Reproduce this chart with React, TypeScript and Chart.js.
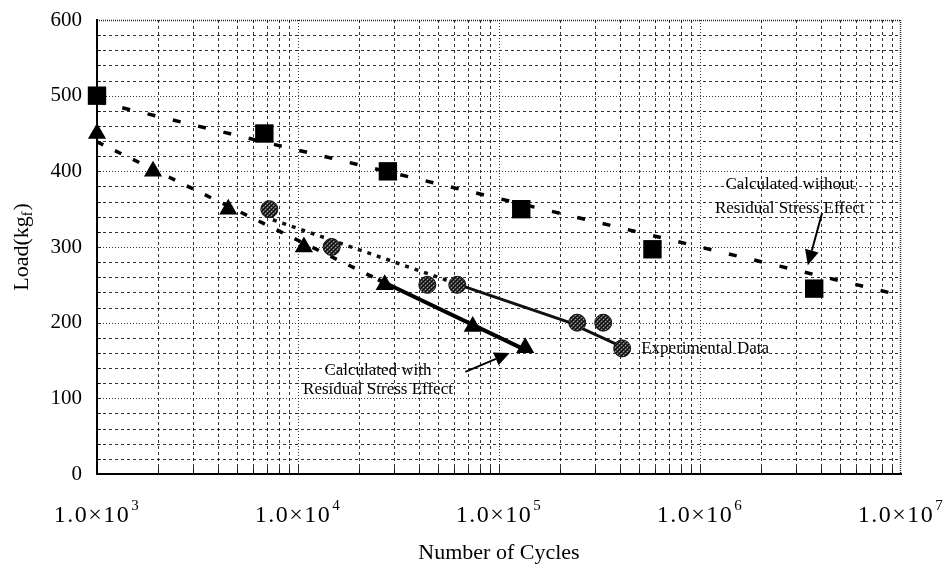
import React, { useEffect, useRef } from 'react';
import { Chart, registerables } from 'chart.js';

Chart.register(...registerables);

// ---- data ----
const decadeExponents = [3, 4, 5, 6, 7];
const gridMultipliers = [1, 2, 3, 4, 5, 6, 7, 8, 9];
const yLabelTicks = [0, 100, 200, 300, 400, 500, 600];
const yGridTicks = [20, 40, 60, 80, 100, 120, 140, 160, 180, 200, 220, 240, 260, 280, 300, 320, 340, 360, 380, 400, 420, 440, 460, 480, 500, 520, 540, 560, 580];

const squareCycles = [1000, 6800, 28000, 129000, 580000, 3700000];
const squareLoads = [500, 450, 400, 350, 297, 245];

const triangleCycles = [1000, 1900, 4500, 10700, 27000, 74000, 135000];
const triangleLoads = [450, 400, 350, 300, 250, 195, 167];

const circleCycles = [7200, 14700, 44000, 62000, 245000, 330000, 410000];
const circleLoads = [350, 300, 250, 250, 200, 200, 166];

const withoutFitCycles = [1000, 10000000];
const withoutFitLoads = [492, 236];

const withFitDashCycles = [1000, 25000];
const withFitDashLoads = [439, 257];
const withFitSolidCycles = [25000, 140000];
const withFitSolidLoads = [257, 162];

const expDotCycles = [7500, 55000];
const expDotLoads = [336, 256];
const expSolidCycles = [65000, 220000, 410000];
const expSolidLoads = [249, 201, 168];

// annotation anchors (in data coordinates)
const notes = [
  { text: 'Calculated without', n: 2.8e6, v: 382, align: 'center' },
  { text: 'Residual Stress Effect', n: 2.8e6, v: 351, align: 'center' },
  { text: 'Calculated with', n: 2.5e4, v: 137, align: 'center' },
  { text: 'Residual Stress Effect', n: 2.5e4, v: 111, align: 'center' },
  { text: 'Experimental Data', n: 5.1e5, v: 166, align: 'left' },
];
const arrows = [
  { n1: 4.05e6, v1: 345, n2: 3.44e6, v2: 276 },
  { n1: 6.8e4, v1: 135, n2: 1.13e5, v2: 160 },
];

const xTitle = 'Number of Cycles';
const yTitleMain = 'Load(kg';
const yTitleSub = 'f';
const yTitleEnd = ')';

const SERIF = '"Liberation Serif", "Times New Roman", serif';
const supDigits: Record<number, string> = { 3: '3', 4: '4', 5: '5', 6: '6', 7: '7' };

const pts = (xs: number[], ys: number[]) => xs.map((x, i) => ({ x, y: ys[i] }));

const gridPlugin = {
  id: 'customGrid',
  beforeDatasetsDraw(chart: any) {
    const { ctx, chartArea, scales } = chart;
    const { left, right, top, bottom } = chartArea;
    const xs = scales.x;
    const ys = scales.y;
    ctx.save();
    ctx.strokeStyle = 'rgba(0,0,0,0.8)';
    ctx.lineWidth = 1;
    // vertical grid
    decadeExponents.slice(0, -1).forEach((e) => {
      gridMultipliers.forEach((m) => {
        const v = m * Math.pow(10, e);
        if (e === decadeExponents[0] && m === 1) return;
        const px = Math.round(xs.getPixelForValue(v)) + 0.5;
        ctx.setLineDash(m === 1 ? [1, 2] : [3, 3]);
        ctx.beginPath();
        ctx.moveTo(px, top);
        ctx.lineTo(px, bottom);
        ctx.stroke();
        ctx.setLineDash([]);
        ctx.beginPath();
        ctx.moveTo(px, bottom);
        ctx.lineTo(px, bottom - (m === 1 ? 9 : 7));
        ctx.stroke();
      });
    });
    // horizontal grid
    yGridTicks.forEach((v) => {
      const py = Math.round(ys.getPixelForValue(v)) + 0.5;
      ctx.setLineDash(v % 100 === 0 ? [1, 2] : [3, 3]);
      ctx.beginPath();
      ctx.moveTo(left, py);
      ctx.lineTo(right, py);
      ctx.stroke();
      ctx.setLineDash([]);
      ctx.beginPath();
      ctx.moveTo(left, py);
      ctx.lineTo(left + 4, py);
      ctx.stroke();
    });
    // top & right dotted frame
    ctx.strokeStyle = 'rgba(0,0,0,0.85)';
    ctx.lineWidth = 1.5;
    ctx.setLineDash([1, 1]);
    ctx.beginPath();
    ctx.moveTo(left, top + 0.5);
    ctx.lineTo(right, top + 0.5);
    ctx.moveTo(right - 0.5, top);
    ctx.lineTo(right - 0.5, bottom);
    ctx.stroke();
    ctx.restore();
  },
};

function drawArrow(ctx: CanvasRenderingContext2D, x1: number, y1: number, x2: number, y2: number) {
  const ang = Math.atan2(y2 - y1, x2 - x1);
  const headLen = 15;
  const headW = 7;
  const bx = x2 - Math.cos(ang) * headLen;
  const by = y2 - Math.sin(ang) * headLen;
  ctx.lineWidth = 2;
  ctx.strokeStyle = '#000';
  ctx.beginPath();
  ctx.moveTo(x1, y1);
  ctx.lineTo(bx, by);
  ctx.stroke();
  ctx.fillStyle = '#000';
  ctx.beginPath();
  ctx.moveTo(x2, y2);
  ctx.lineTo(bx + Math.sin(ang) * headW, by - Math.cos(ang) * headW);
  ctx.lineTo(bx - Math.sin(ang) * headW, by + Math.cos(ang) * headW);
  ctx.closePath();
  ctx.fill();
}

const textPlugin = {
  id: 'customText',
  afterDraw(chart: any) {
    const { ctx, chartArea, scales } = chart;
    const xs = scales.x;
    const ys = scales.y;
    ctx.save();
    ctx.fillStyle = '#000';
    ctx.font = `17px ${SERIF}`;
    ctx.textBaseline = 'middle';
    notes.forEach((nt) => {
      ctx.textAlign = nt.align as CanvasTextAlign;
      ctx.fillText(nt.text, xs.getPixelForValue(nt.n), ys.getPixelForValue(nt.v));
    });
    arrows.forEach((a) => {
      drawArrow(ctx, xs.getPixelForValue(a.n1), ys.getPixelForValue(a.v1), xs.getPixelForValue(a.n2), ys.getPixelForValue(a.v2));
    });

    // x tick labels with superscripts
    ctx.textAlign = 'left';
    ctx.textBaseline = 'alphabetic';
    const baseY = chartArea.bottom + 48;
    decadeExponents.forEach((e) => {
      const px = xs.getPixelForValue(Math.pow(10, e));
      const main = '1.0\u00d710';
      const sup = supDigits[e];
      ctx.font = `24px ${SERIF}`;
      (ctx as any).letterSpacing = '1.5px';
      const w1 = ctx.measureText(main).width;
      ctx.font = `15px ${SERIF}`;
      const w2 = ctx.measureText(sup).width;
      const start = px - (w1 + w2 + 1) / 2;
      ctx.font = `24px ${SERIF}`;
      ctx.fillText(main, start, baseY);
      ctx.font = `15px ${SERIF}`;
      ctx.fillText(sup, start + w1 + 1, baseY - 12);
    });
    (ctx as any).letterSpacing = '0px';

    // x title
    ctx.font = `22px ${SERIF}`;
    ctx.textAlign = 'center';
    ctx.fillText(xTitle, (chartArea.left + chartArea.right) / 2, 559);

    // y title rotated with subscript
    ctx.save();
    ctx.translate(20, (chartArea.top + chartArea.bottom) / 2);
    ctx.rotate(-Math.PI / 2);
    ctx.textAlign = 'left';
    ctx.font = `22px ${SERIF}`;
    const a = ctx.measureText(yTitleMain).width;
    const c = ctx.measureText(yTitleEnd).width;
    ctx.font = `14px ${SERIF}`;
    const b = ctx.measureText(yTitleSub).width;
    const total = a + b + c + 1;
    let cx = -total / 2;
    ctx.font = `22px ${SERIF}`;
    ctx.fillText(yTitleMain, cx, 8);
    cx += a;
    ctx.font = `14px ${SERIF}`;
    ctx.fillText(yTitleSub, cx, 12);
    cx += b + 1;
    ctx.font = `22px ${SERIF}`;
    ctx.fillText(yTitleEnd, cx, 8);
    ctx.restore();

    ctx.restore();
  },
};

export default function App() {
  const ref = useRef<HTMLCanvasElement>(null);
  useEffect(() => {
    if (!ref.current) return;
    const canvas = ref.current;
    const c2d = canvas.getContext('2d')!;
    const pc = document.createElement('canvas');
    pc.width = 4;
    pc.height = 4;
    const p = pc.getContext('2d')!;
    p.fillStyle = '#3a3a3a';
    p.fillRect(0, 0, 4, 4);
    p.fillStyle = '#000';
    p.fillRect(0, 0, 1, 1);
    p.fillRect(2, 2, 1, 1);
    p.fillRect(1, 3, 1, 1);
    p.fillRect(3, 1, 1, 1);
    p.fillStyle = '#9a9a9a';
    p.fillRect(1, 1, 1, 1);
    p.fillRect(3, 3, 1, 1);
    const stipple = c2d.createPattern(pc, 'repeat');

    const chart = new Chart(canvas, {
      type: 'scatter',
      data: {
        datasets: [
          {
            label: 'Calculated without Residual Stress Effect',
            data: pts(squareCycles, squareLoads),
            pointStyle: 'rect',
            pointRadius: 13,
            backgroundColor: '#000',
            borderColor: '#000',
            borderWidth: 0,
            clip: false,
            order: 0,
          },
          {
            label: 'Calculated with Residual Stress Effect',
            data: pts(triangleCycles, triangleLoads),
            pointStyle: 'triangle',
            pointRadius: 10.5,
            backgroundColor: '#000',
            borderColor: '#000',
            borderWidth: 0,
            clip: false,
            order: 0,
          },
          {
            label: 'Experimental Data',
            data: pts(circleCycles, circleLoads),
            pointStyle: 'circle',
            pointRadius: 8.5,
            backgroundColor: stipple as any,
            borderColor: '#111',
            borderWidth: 1,
            clip: false,
            order: 0,
          },
          {
            label: 'without fit',
            data: pts(withoutFitCycles, withoutFitLoads),
            showLine: true,
            pointRadius: 0,
            borderColor: '#000',
            borderWidth: 3.5,
            borderDash: [8, 18],
            order: 1,
          },
          {
            label: 'with fit dashed',
            data: pts(withFitDashCycles, withFitDashLoads),
            showLine: true,
            pointRadius: 0,
            borderColor: '#000',
            borderWidth: 3.5,
            borderDash: [7, 13],
            order: 1,
          },
          {
            label: 'with fit solid',
            data: pts(withFitSolidCycles, withFitSolidLoads),
            showLine: true,
            pointRadius: 0,
            borderColor: '#000',
            borderWidth: 4,
            order: 1,
          },
          {
            label: 'exp dotted',
            data: pts(expDotCycles, expDotLoads),
            showLine: true,
            pointRadius: 0,
            borderColor: '#111',
            borderWidth: 3.5,
            borderDash: [4, 6],
            order: 1,
          },
          {
            label: 'exp solid',
            data: pts(expSolidCycles, expSolidLoads),
            showLine: true,
            pointRadius: 0,
            borderColor: '#111',
            borderWidth: 3,
            order: 1,
          },
        ],
      },
      options: {
        animation: false,
        responsive: true,
        maintainAspectRatio: false,
        layout: { padding: { top: 20, right: 46, left: 0, bottom: 0 } },
        plugins: {
          legend: { display: false },
          tooltip: { enabled: false },
        },
        scales: {
          x: {
            type: 'logarithmic',
            min: Math.pow(10, decadeExponents[0]),
            max: Math.pow(10, decadeExponents[decadeExponents.length - 1]),
            ticks: { display: false },
            grid: { drawOnChartArea: false, drawTicks: false },
            border: { display: true, color: '#000', width: 2 },
            afterFit: (s: any) => {
              s.height = 91;
              s.paddingLeft = 0;
              s.paddingRight = 0;
            },
          },
          y: {
            min: yLabelTicks[0],
            max: yLabelTicks[yLabelTicks.length - 1],
            afterBuildTicks: (s: any) => {
              s.ticks = yLabelTicks.map((v) => ({ value: v }));
            },
            ticks: {
              padding: 15,
              color: '#000',
              font: { family: SERIF, size: 21 },
              callback: (v: any) => String(v),
            },
            grid: { drawOnChartArea: false, drawTicks: false },
            border: { display: true, color: '#000', width: 2 },
            afterFit: (s: any) => {
              s.width = 97;
              s.paddingTop = 0;
              s.paddingBottom = 0;
            },
          },
        },
      },
      plugins: [gridPlugin, textPlugin],
    });
    return () => chart.destroy();
  }, []);

  return (
    <div style={{ position: 'fixed', left: 0, top: 0, width: 947, height: 565, background: '#fff' }}>
      <canvas ref={ref} />
    </div>
  );
}
